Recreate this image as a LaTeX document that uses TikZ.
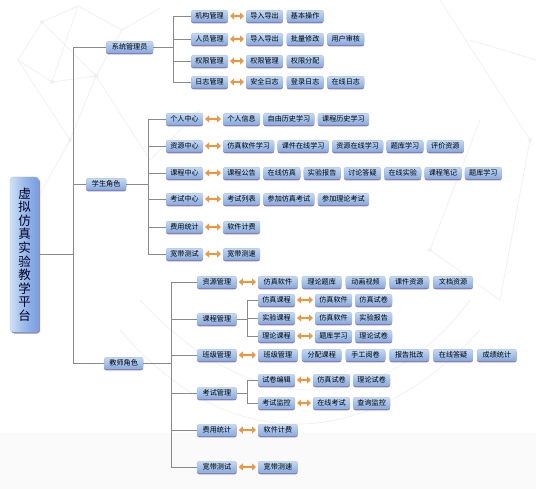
\documentclass[tikz,border=0pt]{standalone}
\usepackage{fontspec}
\newfontfamily\cjk{Noto Sans CJK SC}
\usetikzlibrary{positioning,arrows.meta,shadows}
\definecolor{ctop}{HTML}{C4D9F4}
\definecolor{cbot}{HTML}{85ABE0}
\definecolor{cshd}{HTML}{6E6CB4}
\definecolor{cline}{HTML}{8A8A8A}
\definecolor{corg}{HTML}{F0963C}
\definecolor{cbg}{HTML}{F0F0F0}
\tikzset{
 box/.style={draw=cbot!70!black!50, line width=0.3pt, rounded corners=2.2pt, top color=ctop, bottom color=cbot, text=black,
   font=\cjk\fontsize{7.1}{8}\selectfont, inner xsep=4.2pt, inner ysep=0pt, minimum height=11.5pt, anchor=west,
   drop shadow={shadow xshift=0pt, shadow yshift=-1.6pt, fill=cshd, opacity=0.85}},
 tbox/.style={box, minimum width=39.5pt},
 conn/.style={draw=cline, line width=0.8pt},
 biarrow/.style={draw=corg, line width=2.2pt, {Triangle[length=4pt,width=7pt]}-{Triangle[length=4pt,width=7pt]}, shorten <=2pt, shorten >=2pt},
 bgline/.style={draw=cbg, line width=0.7pt},
}
\begin{document}
\begin{tikzpicture}[x=1pt,y=-1pt]
\useasboundingbox (0,0) rectangle (536,489);
\fill[white] (0,0) rectangle (536,489);
\fill[black!2] (0,433) rectangle (536,489);
% faint background network
\draw[bgline] (18,60) -- (42,22) -- (78,6) -- (122,30) -- (96,76) -- (52,82) -- cycle;
\draw[bgline] (42,22) -- (96,76) (78,6) -- (52,82) (122,30) -- (160,8) (96,76) -- (70,140) -- (18,60);
\draw[bgline] (70,140) -- (20,230) (96,76) -- (150,160) -- (200,110);
\draw[bgline] (120,330) .. controls (240,470) and (380,440) .. (480,330);
\draw[bgline] (140,300) .. controls (260,430) and (390,410) .. (470,300);
\draw[bgline] (440,0) -- (530,140) -- (500,300) (470,40) -- (536,60) (480,120) -- (430,250) -- (500,300);
\fill[cbg] (42,22) circle (2) (96,76) circle (2.5) (52,82) circle (2) (70,140) circle (2) (530,140) circle (2) (430,250) circle (2);
% root
\node[draw=cbot!70!black!50, line width=0.3pt, rounded corners=3.5pt, left color=ctop!80!white, right color=cbot!90!blue, middle color=cbot!70!ctop,
  minimum width=29pt, minimum height=155pt, inner sep=0pt, align=center, text=black!85!blue,
  font=\cjk\fontsize{12.5}{13.6}\selectfont,
  drop shadow={shadow xshift=1.2pt, shadow yshift=-1.6pt, fill=cshd, opacity=0.8}]
  (root) at (24.5,254.5) {虚\\拟\\仿\\真\\实\\验\\教\\学\\平\\台};
% level 1
\node[box, minimum width=47pt] (admin) at (106,47) {系统管理员};
\node[box, minimum width=40pt] (stu) at (86,184) {学生角色};
\node[box, minimum width=39pt] (tea) at (104,363) {教师角色};
\foreach \n in {admin,stu,tea} \draw[conn] (root.east) -- ++(34,0) |- (\n.west);
% admin
\node[box] (a1) at (191,16) {机构管理};
\node[box] (a2) at (191,39) {人员管理};
\node[box] (a3) at (191,61) {权限管理};
\node[box] (a4) at (191,82) {日志管理};
\foreach \n in {a1,a2,a3,a4} \draw[conn] (admin.east) -- ++(20,0) |- (\n.west);
\node[box] (a1l1) at (246,16) {导入导出};
\node[box, right=3.5pt of a1l1] (a1l2) {基本操作};
\node[box] (a2l1) at (246,39) {导入导出};
\node[box, right=3.5pt of a2l1] (a2l2) {批量修改};
\node[box, right=3.5pt of a2l2] (a2l3) {用户审核};
\node[box] (a3l1) at (246,61) {权限管理};
\node[box, right=3.5pt of a3l1] (a3l2) {权限分配};
\node[box] (a4l1) at (246,82) {安全日志};
\node[box, right=3.5pt of a4l1] (a4l2) {登录日志};
\node[box, right=3.5pt of a4l2] (a4l3) {在线日志};
\foreach \n in {a1,a2,a3,a4} \draw[biarrow] (\n.east) -- (\n l1.west);
% student
\node[box] (s1) at (166,119) {个人中心};
\node[box] (s2) at (166,146) {资源中心};
\node[box] (s3) at (166,173) {课程中心};
\node[box] (s4) at (166,199) {考试中心};
\node[box] (s5) at (166,227) {费用统计};
\node[box] (s6) at (166,254) {宽带测试};
\foreach \n in {s1,s2,s3,s4,s5,s6} \draw[conn] (stu.east) -- ++(22,0) |- (\n.west);
\node[box] (s1l1) at (223,119) {个人信息};
\node[box, right=3.2pt of s1l1] (s1l2) {自由历史学习};
\node[box, right=3.2pt of s1l2] (s1l3) {课程历史学习};
\node[box] (s2l1) at (223,146) {仿真软件学习};
\node[box, right=3.2pt of s2l1] (s2l2) {课件在线学习};
\node[box, right=3.2pt of s2l2] (s2l3) {资源在线学习};
\node[box, right=3.2pt of s2l3] (s2l4) {题库学习};
\node[box, right=3.2pt of s2l4] (s2l5) {评价资源};
\node[box] (s3l1) at (223,173) {课程公告};
\node[box, right=3.2pt of s3l1] (s3l2) {在线仿真};
\node[box, right=3.2pt of s3l2] (s3l3) {实验报告};
\node[box, right=3.2pt of s3l3] (s3l4) {讨论答疑};
\node[box, right=3.2pt of s3l4] (s3l5) {在线实验};
\node[box, right=3.2pt of s3l5] (s3l6) {课程笔记};
\node[box, right=3.2pt of s3l6] (s3l7) {题库学习};
\node[box] (s4l1) at (223,199) {考试列表};
\node[box, right=3.2pt of s4l1] (s4l2) {参加仿真考试};
\node[box, right=3.2pt of s4l2] (s4l3) {参加理论考试};
\node[box] (s5l1) at (223,227) {软件计费};
\node[box] (s6l1) at (223,254) {宽带测速};
\foreach \n in {s1,s2,s3,s4,s5,s6} \draw[biarrow] (\n.east) -- (\n l1.west);
% teacher
\node[tbox] (t1) at (197,282) {资源管理};
\node[tbox] (t2) at (197,319) {课程管理};
\node[tbox] (t3) at (197,355) {班级管理};
\node[tbox] (t4) at (197,393) {考试管理};
\node[tbox] (t5) at (197,430) {费用统计};
\node[tbox] (t6) at (197,467) {宽带测试};
\foreach \n in {t1,t2,t3,t4,t5,t6} \draw[conn] (tea.east) -- ++(28,0) |- (\n.west);
\node[tbox] (t1l1) at (258,282) {仿真软件};
\node[tbox, right=4pt of t1l1] (t1l2) {理论题库};
\node[tbox, right=4pt of t1l2] (t1l3) {动画视频};
\node[tbox, right=4pt of t1l3] (t1l4) {课件资源};
\node[tbox, right=4pt of t1l4] (t1l5) {文档资源};
\node[tbox] (t3l1) at (258,355) {班级管理};
\node[tbox, right=4pt of t3l1] (t3l2) {分配课程};
\node[tbox, right=4pt of t3l2] (t3l3) {手工阅卷};
\node[tbox, right=4pt of t3l3] (t3l4) {报告批改};
\node[tbox, right=4pt of t3l4] (t3l5) {在线答疑};
\node[tbox, right=4pt of t3l5] (t3l6) {成绩统计};
\node[tbox] (t5l1) at (258,430) {软件计费};
\node[tbox] (t6l1) at (258,467) {宽带测速};
\foreach \n in {t1,t3,t5,t6} \draw[biarrow] (\n.east) -- (\n l1.west);
% course management
\node[box] (c1) at (258,300) {仿真课程};
\node[box] (c2) at (258,318) {实验课程};
\node[box] (c3) at (258,336) {理论课程};
\foreach \n in {c1,c2,c3} \draw[conn] (t2.east) -- ++(10.5,0) |- (\n.west);
\node[box] (c1l1) at (315,300) {仿真软件};
\node[box, right=3pt of c1l1] (c1l2) {仿真试卷};
\node[box] (c2l1) at (315,318) {仿真软件};
\node[box, right=3pt of c2l1] (c2l2) {实验报告};
\node[box] (c3l1) at (315,336) {题库学习};
\node[box, right=3pt of c3l1] (c3l2) {理论试卷};
\foreach \n in {c1,c2,c3} \draw[biarrow] (\n.east) -- (\n l1.west);
% exam management
\node[box] (e1) at (258,380) {试卷编辑};
\node[box] (e2) at (258,403) {考试监控};
\foreach \n in {e1,e2} \draw[conn] (t4.east) -- ++(10.5,0) |- (\n.west);
\node[box] (e1l1) at (313,380) {仿真试卷};
\node[box, right=3pt of e1l1] (e1l2) {理论试卷};
\node[box] (e2l1) at (313,403) {在线考试};
\node[box, right=3pt of e2l1] (e2l2) {查询监控};
\foreach \n in {e1,e2} \draw[biarrow] (\n.east) -- (\n l1.west);
\end{tikzpicture}
\end{document}
